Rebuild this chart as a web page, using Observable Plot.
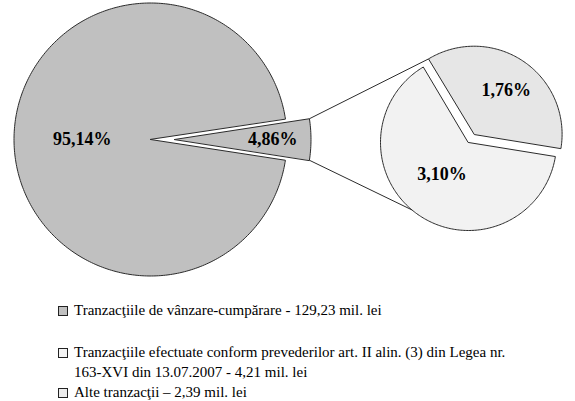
<!DOCTYPE html>
<html><head><meta charset="utf-8">
<script src="https://cdn.jsdelivr.net/npm/d3@7"></script>
<script src="https://cdn.jsdelivr.net/npm/@observablehq/plot@0.6"></script>
<style>
body{margin:0;background:#fff;font-family:"Liberation Serif","Times New Roman",serif;}
#chart{position:relative;width:575px;height:401px;overflow:hidden;}
#chart svg{position:absolute;left:0;top:0;}
.leg{position:absolute;left:58px;font-size:15px;line-height:20px;color:#000;display:flex;align-items:flex-start;}
.sw{width:8px;height:8px;border:1px solid #222;margin-top:6px;margin-right:6px;flex:none;}
.lt{white-space:pre-line;}
</style></head><body><div id="chart"></div>
<script>
// ---- data ----
const categories = ["Tranzacţiile de vânzare-cumpărare", "Tranzacţiile efectuate conform prevederilor art. II alin. (3) din Legea nr. 163-XVI din 13.07.2007", "Alte tranzacţii"];
const amounts = [129.23, 4.21, 2.39];
const shares = [95.14, 3.10, 1.76];
const shareLabels = ["95,14%", "3,10%", "1,76%"];
const otherLabel = "4,86%";
const legendLabels = [
  "Tranzacţiile de vânzare-cumpărare - 129,23 mil. lei",
  "Tranzacţiile efectuate conform prevederilor art. II alin. (3) din Legea nr.\n163-XVI din 13.07.2007 - 4,21 mil. lei",
  "Alte tranzacţii – 2,39 mil. lei"
];

// ---- styles / layout ----
const fills = ["#c0c0c0", "#f2f2f2", "#e6e6e6"];
const legendFills = ["#c0c0c0", "#f4f4f4", "#ececec"];
const legendTops = [300, 342, 382];
const W = 575, H = 285;
const main = {cx: 150, cy: 139, r: 136.5, explode: 24};
const sub = {cx: 468, cy: 142, r: 88, explode: 10, rotation: 34};
const stroke = "#2b2b2b";

const rad = d => d * Math.PI / 180;
const pt = (cx, cy, r, a) => [cx + r * Math.sin(rad(a)), cy - r * Math.cos(rad(a))];
function slice(cx, cy, r, a0, a1) {
  const pts = [{x: cx, y: cy}];
  const n = Math.max(2, Math.ceil(Math.abs(a1 - a0)));
  for (let i = 0; i <= n; i++) { const [x, y] = pt(cx, cy, r, a0 + (a1 - a0) * i / n); pts.push({x, y}); }
  return pts;
}

// main pie
const otherShare = shares[1] + shares[2];
const total = shares[0] + otherShare;
const otherAng = otherShare / total * 360;
const mainSlice = slice(main.cx, main.cy, main.r, 90 + otherAng / 2, 450 - otherAng / 2);
const ox = main.cx + main.explode, oy = main.cy;
const otherSlice = slice(ox, oy, main.r, 90 - otherAng / 2, 90 + otherAng / 2);

// sub pie
const alteAng = shares[2] / otherShare * 360;
const a0 = sub.rotation - alteAng / 2, a1 = sub.rotation + alteAng / 2;
const [ax, ay] = pt(sub.cx, sub.cy, sub.explode, sub.rotation);
const alteSlice = slice(ax, ay, sub.r, a0, a1);
const artSlice = slice(sub.cx, sub.cy, sub.r, a1, a0 + 360);

// connectors
const [c1x, c1y] = pt(ox, oy, main.r, 90 - otherAng / 2);
const [c2x, c2y] = pt(ox, oy, main.r, 90 + otherAng / 2);
const [e1x, e1y] = pt(ax, ay, sub.r, a0);
const [e2x, e2y] = pt(sub.cx, sub.cy, sub.r, 220);
const links = [{x1: c1x, y1: c1y, x2: e1x, y2: e1y}, {x1: c2x, y1: c2y, x2: e2x, y2: e2y}];

// labels
const lab = [];
{ const [x, y] = pt(main.cx, main.cy, main.r * 0.5, 270); lab.push({x, y, t: shareLabels[0]}); }
{ const [x, y] = pt(ox, oy, main.r * 0.72, 90); lab.push({x, y, t: otherLabel}); }
{ const [x, y] = pt(sub.cx, sub.cy, sub.r * 0.47, (a1 + a0 + 360) / 2 + 6); lab.push({x, y, t: shareLabels[1]}); }
{ const [x, y] = pt(ax, ay, sub.r * 0.62, sub.rotation + 2); lab.push({x, y, t: shareLabels[2]}); }

const poly = (data, fill) => Plot.line(data, {x: "x", y: "y", curve: "linear-closed", fill, stroke, strokeWidth: 1});

const svg = Plot.plot({
  width: W, height: H, margin: 0,
  x: {domain: [0, W], range: [0, W], axis: null},
  y: {domain: [0, H], range: [0, H], axis: null},
  style: {background: "transparent"},
  marks: [
    poly(mainSlice, fills[0]),
    poly(otherSlice, fills[0]),
    poly(artSlice, fills[1]),
    poly(alteSlice, fills[2]),
    Plot.link(links, {x1: "x1", y1: "y1", x2: "x2", y2: "y2", stroke, strokeWidth: 1}),
    Plot.text(lab, {x: "x", y: "y", text: "t", fontFamily: "Liberation Serif", fontWeight: "bold", fontSize: 18, fill: "#000"})
  ]
});
const chart = document.getElementById("chart");
chart.appendChild(svg);

legendLabels.forEach((t, i) => {
  const d = document.createElement("div");
  d.className = "leg";
  d.style.top = legendTops[i] + "px";
  const s = document.createElement("div"); s.className = "sw"; s.style.background = legendFills[i];
  const l = document.createElement("div"); l.className = "lt"; l.textContent = t;
  d.appendChild(s); d.appendChild(l);
  chart.appendChild(d);
});
</script></body></html>
